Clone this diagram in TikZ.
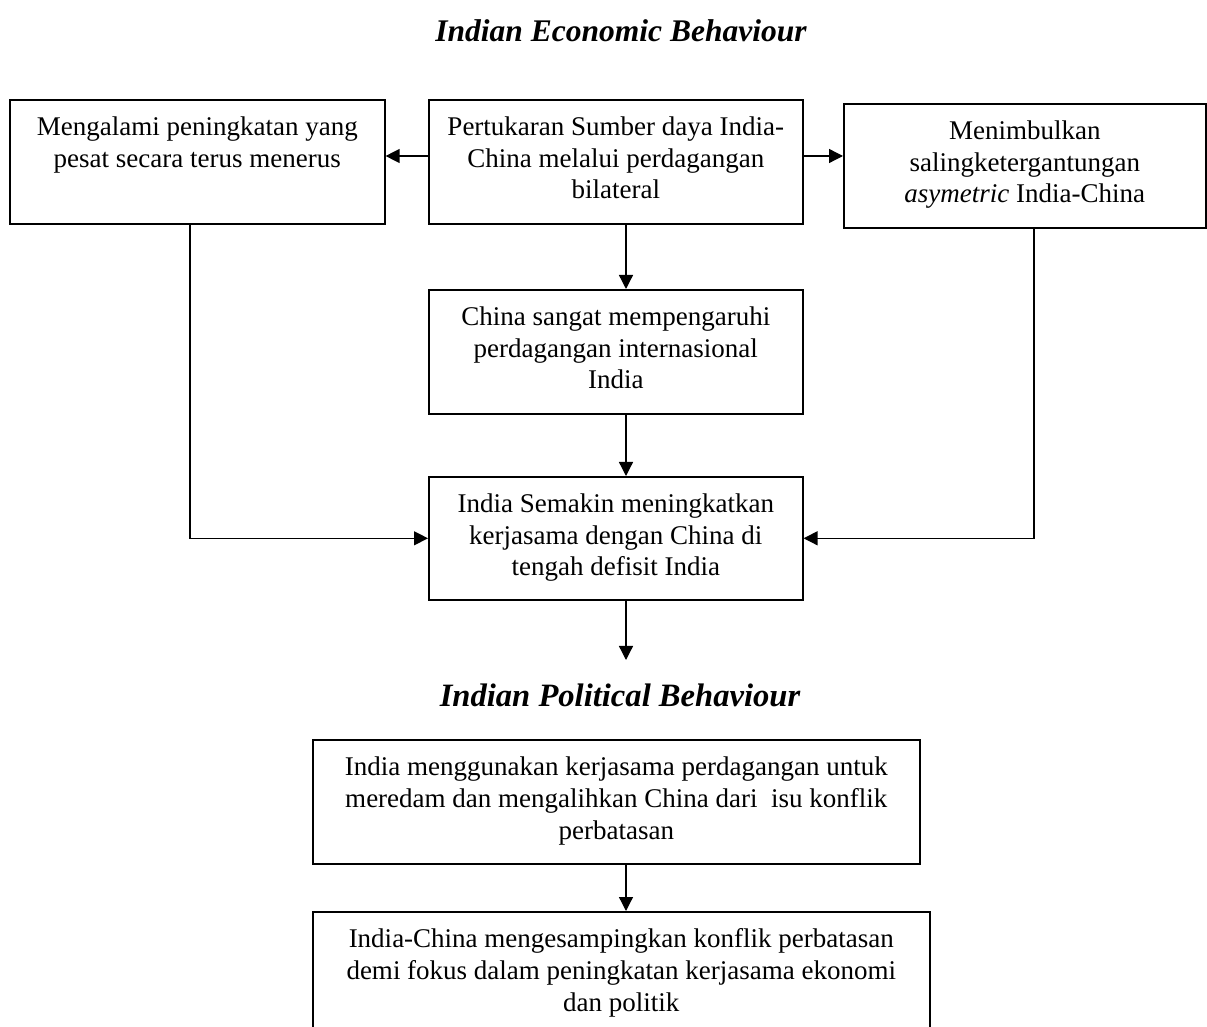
\documentclass[tikz,border=0pt]{standalone}
\usepackage{fontspec}
\setmainfont{Liberation Serif}
\usetikzlibrary{arrows.meta}

\newcommand{\boxtxt}[3]{\parbox[c][#2][t]{#1}{\centering\rule{0pt}{18pt}#3}}

\begin{document}
\begin{tikzpicture}[
  x=0.5pt, y=-0.5pt,
  every node/.style={font=\fontsize{13.5pt}{15.8pt}\selectfont},
  flowbox/.style={draw, line width=0.8pt, inner sep=0pt, anchor=north west},
  heading/.style={anchor=base, font=\fontsize{15.75pt}{18pt}\selectfont\bfseries\itshape},
  arr/.style={line width=0.65pt, -{Triangle[length=7pt, width=7pt]}}
]
\clip (0,0) rectangle (1207,1027);
\coordinate (axis) at (626,0);
\coordinate (leftline) at (190,0);
\coordinate (rightline) at (1034,0);
\coordinate (sideline) at (0,156);
\coordinate (polend) at (626,660);

\node[heading] (econ) at (621,42) {Indian Economic Behaviour};
\node[heading, font=\fontsize{16.3pt}{18pt}\selectfont\bfseries\itshape] (polit) at (620,706) {Indian Political Behaviour};

\node[flowbox] (boxL) at (9,99) {\boxtxt{187.5pt}{62pt}{Mengalami peningkatan yang\\pesat secara terus menerus}};
\node[flowbox] (boxC) at (428,99) {\boxtxt{187pt}{62pt}{Pertukaran Sumber daya India-\\China melalui perdagangan\\bilateral}};
\node[flowbox] (boxR) at (843,103) {\boxtxt{181pt}{62pt}{Menimbulkan\\salingketergantungan\\\textit{asymetric} India-China}};
\node[flowbox] (boxM) at (428,289) {\boxtxt{187pt}{62pt}{China sangat mempengaruhi\\perdagangan internasional\\India}};
\node[flowbox] (boxI) at (428,476) {\boxtxt{187pt}{61.5pt}{India Semakin meningkatkan\\kerjasama dengan China di\\tengah defisit India}};
\node[flowbox] (boxP1) at (312,739) {\boxtxt{303.5pt}{62pt}{India menggunakan kerjasama perdagangan untuk\\meredam dan mengalihkan China dari\ \ isu konflik\\perbatasan}};
\node[flowbox] (boxP2) at (312,911) {\boxtxt{308.5pt}{62pt}{India-China mengesampingkan konflik perbatasan\\demi fokus dalam peningkatan kerjasama ekonomi\\dan politik}};

\draw[arr] (boxC.west |- sideline) -- (boxL.east |- sideline);
\draw[arr] (boxC.east |- sideline) -- (boxR.west |- sideline);
\draw[arr] (boxC.south -| axis) -- (boxM.north -| axis);
\draw[arr] (boxM.south -| axis) -- (boxI.north -| axis);
\draw[arr] (boxL.south -| leftline) |- (boxI.west);
\draw[arr] (boxR.south -| rightline) |- (boxI.east);
\draw[arr] (boxI.south -| axis) -- (polend);
\draw[arr] (boxP1.south -| axis) -- (boxP2.north -| axis);
\end{tikzpicture}
\end{document}
